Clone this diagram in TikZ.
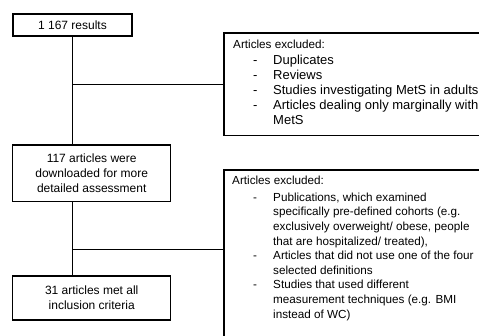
\documentclass[tikz,border=0pt]{standalone}
\usepackage{fontspec}
\setmainfont{Liberation Sans}
\newcommand{\itm}[1]{\makebox[20pt][l]{-}#1}
\newcommand{\cnt}[1]{\hspace*{20pt}#1}
\begin{document}
\begin{tikzpicture}[x=1pt,y=-1pt,
  box/.style={draw, line width=1.5pt, inner sep=0pt, rectangle},
  ln/.style={line width=1.5pt},
  lbl/.style={font=\fontsize{12}{14.7}\selectfont, align=center},
  hdr/.style={anchor=base west, inner sep=0pt, font=\fontsize{11.7}{14}\selectfont},
  items/.style={anchor=base west, inner sep=0pt}]
\useasboundingbox (0,0) rectangle (479,335);
\clip (0,0) rectangle (479,335);
\node[box, minimum width=119pt, minimum height=21.7pt, lbl] (b1) at (72.5,24.9) {1 167 results};
\node[box, minimum width=158pt, minimum height=56.7pt, lbl] (b2) at (91.7,173.3) {117 articles were\\downloaded for more\\detailed assessment};
\node[box, minimum width=158pt, minimum height=44pt, lbl] (b3) at (91.7,298) {31 articles met all\\inclusion criteria};
\node[box, minimum width=376pt, minimum height=102.5pt] (e1) at (412,84.25) {};
\node[box, minimum width=376pt, minimum height=230pt] (e2) at (412,285) {};
\draw[ln] (b1.south) -- (b1.south |- b2.north);
\draw[ln] (b1.south |- e1.west) -- (e1.west);
\draw[ln] (b1.south |- b2.south) -- (b1.south |- b3.north);
\coordinate (j2) at (72.5,249.3);
\draw[ln] (j2) -- (j2 -| e2.west);
\node[hdr] (h1) at (233,48.6) {Articles excluded:};
\node[items, font=\fontsize{13}{15.1}\selectfont] (i1) at (253,64) {\begin{tabular}[t]{@{}l@{}}
\itm{Duplicates}\\
\itm{Reviews}\\
\itm{Studies investigating MetS in adults}\\
\itm{Articles dealing only marginally with}\\
\cnt{MetS}
\end{tabular}};
\node[hdr] (h2) at (232,184) {Articles excluded:};
\node[items, font=\fontsize{11.7}{14.6}\selectfont] (i2) at (253,201.2) {\begin{tabular}[t]{@{}l@{}}
\itm{Publications, which examined}\\
\cnt{specifically pre-defined cohorts (e.g.}\\
\cnt{exclusively overweight/ obese, people}\\
\cnt{that are hospitalized/ treated),}\\
\itm{Articles that did not use one of the four}\\
\cnt{selected definitions}\\
\itm{Studies that used different}\\
\cnt{measurement techniques (e.g. BMI}\\
\cnt{instead of WC)}
\end{tabular}};
\end{tikzpicture}
\end{document}
